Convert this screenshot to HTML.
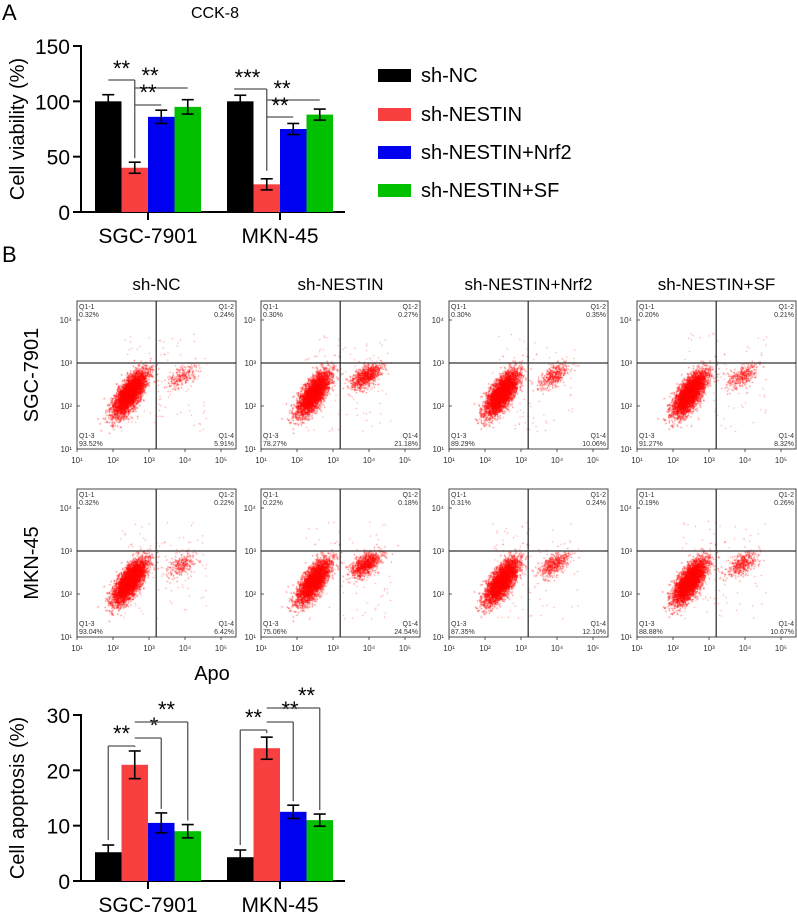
<!DOCTYPE html>
<html><head><meta charset="utf-8">
<style>
body{margin:0;background:#fff;width:797px;height:915px;overflow:hidden;font-family:"Liberation Sans",sans-serif;}
#root{position:relative;width:797px;height:915px;}
svg{position:absolute;left:0;top:0;}
canvas{position:absolute;left:0;top:0;}
</style></head>
<body><div id="root">
<canvas id="cv" width="797" height="915"></canvas>
<svg id="sv" width="797" height="915" font-family="Liberation Sans, sans-serif"></svg>
</div>
<script>
// ---- data ----
const groups = ["SGC-7901","MKN-45"];
const seriesNames = ["sh-NC","sh-NESTIN","sh-NESTIN+Nrf2","sh-NESTIN+SF"];
const colors = ["#000000","#f84040","#0000f0","#00c000"];
const viabSGC = [100,40,86,95];
const viabSGCerr = [6,5,6,6.5];
const viabMKN = [100,25,75,88];
const viabMKNerr = [5.5,5,5,5];
const viabTicks = [0,50,100,150];
const apoSGC = [5.2,21,10.5,9];
const apoSGCerr = [1.3,2.5,1.8,1.2];
const apoMKN = [4.3,24,12.5,11];
const apoMKNerr = [1.3,2,1.2,1.1];
const apoTicks = [0,10,20,30];
const flowQ1 = [["0.32%","0.30%","0.30%","0.20%"],["0.32%","0.22%","0.31%","0.19%"]];
const flowQ2 = [["0.24%","0.27%","0.35%","0.21%"],["0.22%","0.18%","0.24%","0.26%"]];
const flowQ3 = [["93.52%","78.27%","89.29%","91.27%"],["93.04%","75.06%","87.35%","88.88%"]];
const flowQ4 = [["5.91%","21.18%","10.06%","8.32%"],["6.42%","24.54%","12.10%","10.67%"]];

const NS="http://www.w3.org/2000/svg";
const sv=document.getElementById('sv');
function el(tag,attrs,parent,txt){const e=document.createElementNS(NS,tag);for(const k in attrs)e.setAttribute(k,attrs[k]);if(txt!==undefined)e.textContent=txt;(parent||sv).appendChild(e);return e;}
function line(x1,y1,x2,y2,w,c,p){return el('line',{x1,y1,x2,y2,stroke:c||'#000','stroke-width':w||2},p);}

let t=el('text',{x:2,y:20,'font-size':22},sv,'A');
t=el('text',{x:2,y:262,'font-size':22},sv,'B');
t=el('text',{x:215,y:18,'font-size':16,'text-anchor':'middle'},sv,'CCK-8');
t=el('text',{x:212,y:680,'font-size':20,'text-anchor':'middle'},sv,'Apo');

function barChart(opt){
  const g=el('g',{});
  const y=v=>opt.y0-(v/opt.max)*(opt.y0-opt.yTop);
  line(81,opt.yTop-1,81,opt.y0+1,2,'#000',g);
  line(80,opt.y0,345,opt.y0,2,'#000',g);
  opt.ticks.forEach(v=>{line(73,y(v),81,y(v),2,'#000',g);
    const tt=el('text',{x:70,y:y(v)+8,'font-size':21,'text-anchor':'end'},g,v);});
  const tl=el('text',{transform:`translate(24,${(opt.y0+opt.yTop)/2}) rotate(-90)`,'font-size':20,'text-anchor':'middle'},g,opt.ylabel);
  
  const starts=[95,227],bw=26.5;
  [opt.a,opt.b].forEach((vals,gi)=>{
    const errs=gi?opt.be:opt.ae;
    vals.forEach((v,i)=>{const x=starts[gi]+i*bw;
      const r=el('rect',{x,y:y(v),width:bw,height:opt.y0-y(v),fill:colors[i]},g);
      
      const cx=x+bw/2;line(cx,y(v+errs[i]),cx,y(v-errs[i]),1.6,'#000',g);
      line(cx-6,y(v+errs[i]),cx+6,y(v+errs[i]),1.6,'#000',g);line(cx-6,y(v-errs[i]),cx+6,y(v-errs[i]),1.6,'#000',g);});
    const mx=starts[gi]+2*bw;line(mx,opt.y0,mx,opt.y0+8,2,'#000',g);
    const xl=el('text',{x:mx,y:opt.y0+31,'font-size':21,'text-anchor':'middle'},g,groups[gi]);
  });
  return {g,y,starts,bw};
}
const top_=barChart({name:'cck8-chart',y0:212,yTop:46,max:150,ticks:viabTicks,ylabel:'Cell viability (%)',a:viabSGC,ae:viabSGCerr,b:viabMKN,be:viabMKNerr});
const bot=barChart({name:'apoptosis-chart',y0:881,yTop:715,max:30,ticks:apoTicks,ylabel:'Cell apoptosis (%)',a:apoSGC,ae:apoSGCerr,b:apoMKN,be:apoMKNerr});

function star(x,y,s,g){const tt=el('text',{x,y:y+12,'font-size':22,'text-anchor':'middle'},g,s);}
const gc='#555';
(function(){const g=top_.g,y=top_.y;const c=(gi,i)=>top_.starts[gi]+i*top_.bw+top_.bw/2;
 line(c(0,0),80,c(0,1),80,1.3,gc,g);line(c(0,1),80,c(0,1),y(viabSGC[1]+viabSGCerr[1])-4,1.3,gc,g);star((c(0,0)+c(0,1))/2,64,'**',g);
 line(c(0,1),88,c(0,3),88,1.3,gc,g);star((c(0,1)+c(0,2))/2+2,71,'**',g);
 line(c(0,1),105,c(0,2),105,1.3,gc,g);star((c(0,1)+c(0,2))/2,88,'**',g);
 line(c(1,0)-6,89,c(1,1),89,1.3,gc,g);line(c(1,1),89,c(1,1),y(viabMKN[1]+viabMKNerr[1])-8,1.3,gc,g);star((c(1,0)+c(1,1))/2-6,73,'***',g);
 line(c(1,1),100,c(1,3),100,1.3,gc,g);star((c(1,1)+c(1,2))/2+2,84,'**',g);
 line(c(1,1),117,c(1,2),117,1.3,gc,g);star((c(1,1)+c(1,2))/2,101,'**',g);
})();
(function(){const g=bot.g,y=bot.y;const c=(gi,i)=>bot.starts[gi]+i*bot.bw+bot.bw/2;
 function br(x1,x2,yy,d1,d2,s,sx){line(x1,yy,x2,yy,1.3,gc,g);if(d1)line(x1,yy,x1,d1,1.3,gc,g);line(x2,yy,x2,d2,1.3,gc,g);star(sx,yy-17,s,g);}
 br(c(0,0),c(0,1),746,y(apoSGC[0]+apoSGCerr[0])-5,y(apoSGC[1]+apoSGCerr[1])-4,'**',(c(0,0)+c(0,1))/2);
 br(c(0,1),c(0,2),738,null,y(apoSGC[2]+apoSGCerr[2])-4,'*',(c(0,1)+c(0,2))/2+6);
 br(c(0,1),c(0,3),722,null,y(apoSGC[3]+apoSGCerr[3])-4,'**',(c(0,2)+c(0,3))/2-8);
 br(c(1,0),c(1,1),730,y(apoMKN[0]+apoMKNerr[0])-5,y(apoMKN[1]+apoMKNerr[1])-4,'**',(c(1,0)+c(1,1))/2);
 br(c(1,1),c(1,2),722,null,y(apoMKN[2]+apoMKNerr[2])-4,'**',(c(1,1)+c(1,2))/2+10);
 br(c(1,1),c(1,3),708,null,y(apoMKN[3]+apoMKNerr[3])-4,'**',(c(1,2)+c(1,3))/2);
})();
seriesNames.forEach((n,i)=>{const yy=[69,108,146,184][i];
 const r=el('rect',{x:378,y:yy,width:33,height:13,fill:colors[i]});
 const tt=el('text',{x:421,y:yy+13,'font-size':20},sv,n);});

const ctx=document.getElementById('cv').getContext('2d');
let seed=12345;function rnd(){seed=(seed*1103515245+12345)%2147483648;return seed/2147483648;}
function gauss(){let u=rnd()||1e-6,v=rnd();return Math.sqrt(-2*Math.log(u))*Math.cos(2*Math.PI*v);}
const lefts=[77,261,449,637],tops=[301,489],W=159,H=148;
const sup={1:'¹',2:'²',3:'³',4:'⁴',5:'⁵'};
seriesNames.forEach((n,ci)=>{const tt=el('text',{x:lefts[ci]+W/2,y:290,'font-size':17,'text-anchor':'middle'},sv,n);});
groups.forEach((gname,ri)=>{const tt=el('text',{transform:`translate(38,${tops[ri]+H/2}) rotate(-90)`,'font-size':20,'text-anchor':'middle'},sv,gname);});
for(let ri=0;ri<2;ri++)for(let ci=0;ci<4;ci++){
 const L=lefts[ci],T=tops[ri];
 const g=el('g',{});
 const px=d=>L+(d-1)*36, py=d=>T+H-(d-1)*43;
 ctx.fillStyle='rgba(255,0,0,0.7)';
 const q4=parseFloat(flowQ4[ri][ci]),total=4000;
 const nMain=Math.round(total*(100-q4)/100),nSec=Math.round(total*q4/100);
 for(let k=0;k<nMain;k++){const a=gauss()*0.26,b=gauss()*0.14;const x=2.45+a*0.8-b*0.6,y=2.3+a*0.9+b*0.7;ctx.fillRect(px(x),py(y),1.2,1.2);}
 for(let k=0;k<nSec;k++){const a=gauss()*0.24,b=gauss()*0.12;const x=3.9+a*0.8-b*0.6,y=2.7+a*0.5+b*0.7;ctx.fillRect(px(x),py(y),1.1,1.1);}
 ctx.fillStyle='rgba(255,0,0,0.55)';
 for(let k=0;k<90;k++){const x=2.2+rnd()*2.4,y=1.4+rnd()*2.3;ctx.fillRect(px(x),py(y),1,1);}
 el('rect',{x:L,y:T,width:W,height:H,fill:'none',stroke:'#444','stroke-width':1},g);
 line(px(3.2),T,px(3.2),T+H,1.3,'#333',g);line(L,py(3),L+W,py(3),1.3,'#333',g);
 for(let d=1;d<=5;d++){const tt=el('text',{x:px(d),y:T+H+14,'font-size':8,'text-anchor':'middle',fill:'#333'},g,'10'+sup[d]);
   line(px(d),T+H,px(d),T+H+3,0.8,'#333',g);}
 for(let d=1;d<=4;d++){const tt=el('text',{x:L-5,y:py(d)+3,'font-size':8,'text-anchor':'end',fill:'#333'},g,'10'+sup[d]);
   line(L,py(d),L+3,py(d),0.8,'#333',g);}
 const fs=7;
 [['Q1-1',flowQ1[ri][ci],L+2,T+8,'start'],['Q1-2',flowQ2[ri][ci],L+W-2,T+8,'end'],['Q1-3',flowQ3[ri][ci],L+2,T+H-11,'start'],['Q1-4',flowQ4[ri][ci],L+W-2,T+H-11,'end']].forEach(q=>{
   const a=el('text',{x:q[2],y:q[3],'font-size':fs,'text-anchor':q[4],fill:'#333'},g,q[0]);
   const b=el('text',{x:q[2],y:q[3]+8,'font-size':fs,'text-anchor':q[4],fill:'#333'},g,q[1]);});
}
</script>
</body></html>
